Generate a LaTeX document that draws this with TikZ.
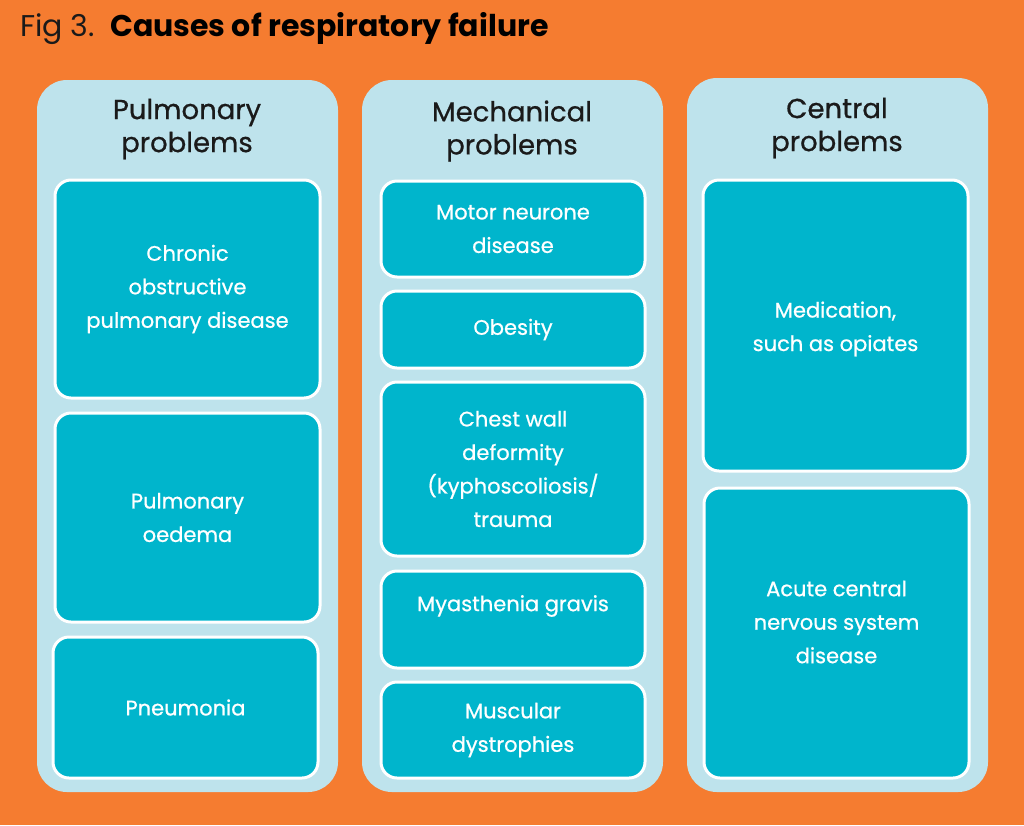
\documentclass[tikz,border=0pt]{standalone}
\usepackage{fontspec}
\setmainfont{Poppins}
\newfontfamily\medfont{Poppins}[FakeBold=0.7]
\usepackage{tikz}
\usepackage{xcolor}

\definecolor{bgorange}{RGB}{245,124,48}
\definecolor{panelblue}{RGB}{190,227,236}
\definecolor{boxteal}{RGB}{0,181,204}
\definecolor{headink}{RGB}{26,26,26}

\begin{document}
\begin{tikzpicture}[x=1pt,y=-1pt,
  panel/.style={fill=panelblue,rounded corners=30pt,inner sep=0pt,minimum width=301pt},
  head/.style={text=headink,align=center,font=\medfont\fontsize{27.5}{33}\selectfont},
  causetext/.style={text=white,align=center,font=\medfont\fontsize{21}{33.5}\selectfont},
  cause/.style={fill=boxteal,draw=white,line width=3pt,rounded corners=16pt,inner sep=0pt,causetext}]

\fill[bgorange] (0,0) rectangle (1024,825);

% title
\node[anchor=base west,inner sep=0pt,text=headink,font=\fontsize{30}{32}\selectfont] (fig) at (20,36) {Fig 3.};
\node[anchor=base west,inner sep=0pt,font=\fontsize{30}{32}\selectfont\bfseries] (title) at (110,36) {Causes of respiratory failure};

% panels
\node[panel,minimum height=712pt] (pulm) at (187.5,436) {};
\node[panel,minimum height=712pt] (mech) at (512.5,436) {};
\node[panel,minimum height=714pt] (cent) at (837.5,435) {};

\node[head] (pulmhead) at (187,129) {Pulmonary\\problems};
\node[head] (mechhead) at (512,131) {Mechanical\\problems};
\node[head] (centhead) at (837,128) {Central\\problems};

% pulmonary column
\begin{scope}[every node/.style={cause,minimum width=265pt}]
\node[minimum height=218pt] (copd) at (187.5,289) {Chronic\\obstructive\\pulmonary disease};
\node[minimum height=209pt] (oedema) at (187.5,517.5) {Pulmonary\\oedema};
\node[minimum height=141pt] (pneu) at (185.5,707.5) {Pneumonia};
\end{scope}

% mechanical column
\begin{scope}[every node/.style={cause,minimum width=264pt}]
\node[minimum height=96pt] (motor) at (513,229) {Motor neurone\\disease};
\node[minimum height=77pt] (obes) at (513,329.5) {Obesity};
\node[minimum height=174pt] (chest) at (513,469) {Chest wall\\deformity\\(kyphoscoliosis/\\trauma};
\node[minimum height=97pt] (myas) at (513,619.5) {};
\node[minimum height=96pt] (musc) at (513,730) {Muscular\\dystrophies};
\end{scope}
\node[causetext] (myastext) at (513,606) {Myasthenia gravis};

% central column
\begin{scope}[every node/.style={cause,minimum width=265pt}]
\node[minimum height=291pt] (medic) at (835.5,325.5) {};
\node[minimum height=290pt] (cns) at (836.5,633) {};
\end{scope}
\node[causetext] (medictext) at (835.5,329) {Medication,\\such as opiates};
\node[causetext] (cnstext) at (836.5,622) {Acute central\\nervous system\\disease};

\end{tikzpicture}
\end{document}
